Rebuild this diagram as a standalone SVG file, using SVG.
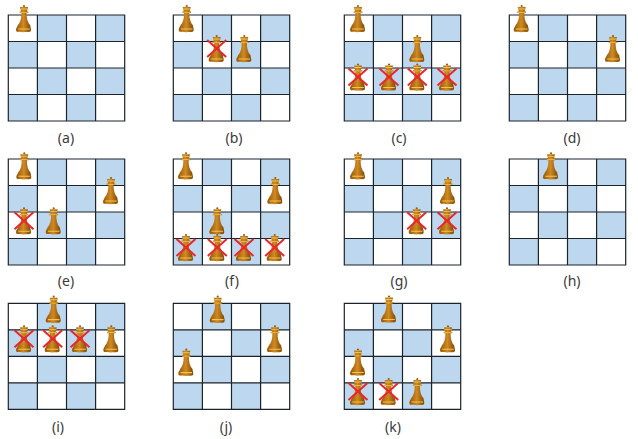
<svg xmlns="http://www.w3.org/2000/svg" width="638" height="439" viewBox="0 0 638 439">
<style>
.lbl{font-family:"Noto Sans","Open Sans",sans-serif;font-size:14px;fill:#3a3a3a;text-anchor:middle}
.b{fill:#bdd7ee}
.g{stroke:#1c232b;stroke-width:1.2;fill:none}
.x{stroke:#e8262c;stroke-width:2;fill:none}
</style>
<defs>
<linearGradient id="q" x1="0" x2="1" y1="0" y2="0"><stop offset="0" stop-color="#93540c"/><stop offset=".5" stop-color="#d08a22"/><stop offset="1" stop-color="#7d4608"/></linearGradient>
<g id="board">
<rect width="116.400" height="106" fill="#fff"/>
<rect class="b" x="29.100" y="0" width="29.100" height="26.500"/><rect class="b" x="87.300" y="0" width="29.100" height="26.500"/>
<rect class="b" x="0" y="26.500" width="29.100" height="26.500"/><rect class="b" x="58.200" y="26.500" width="29.100" height="26.500"/>
<rect class="b" x="29.100" y="53" width="29.100" height="26.500"/><rect class="b" x="87.300" y="53" width="29.100" height="26.500"/>
<rect class="b" x="0" y="79.500" width="29.100" height="26.500"/><rect class="b" x="58.200" y="79.500" width="29.100" height="26.500"/>
<path class="g" d="M0 0H116.400V106H0ZM29.100 0V106M58.200 0V106M87.300 0V106M0 26.500H116.400M0 53H116.400M0 79.500H116.400"/>
</g>
<g id="queen">
<circle cx="0" cy="-26" r="1.100" fill="#9a5a10"/>
<path fill="url(#q)" d="M-4-25h8l-1 4.500h1.300v1.500h-8.600v-1.500h1.300zM-2.600-19h5.200c0 5 .8 9.500 3.800 12.500h-12.800c3-3 3.800-7.500 3.800-12.500zM-6.200-6.500h12.400l.6 3c.5 2.200-.1 3-1 3.300-3.400.5-9.200.5-12.600 0-.9-.3-1.500-1.100-1-3.300z"/>
<path fill="#f4c548" d="M-5.800-3.600h11.600v1.100h-11.600zM-3.600-23.400h7.200v.9h-7.200zM-3.900-20h7.800v.8h-7.800z"/>
</g>
<g id="cross"><path class="x" d="M-9.500-22L9.500-5M9.500-22L-9.500-5"/></g>
</defs>
<g id="board-a"><use href="#board" x="8.300" y="15"/><use href="#queen" x="24" y="32"/><text class="lbl" x="66" y="143">(a)</text></g>
<g id="board-b"><use href="#board" x="173.300" y="15"/><use href="#queen" x="186.700" y="32"/><use href="#queen" x="216.700" y="62"/><use href="#cross" x="216.700" y="62"/><use href="#queen" x="244.300" y="62"/><text class="lbl" x="234" y="143">(b)</text></g>
<g id="board-c"><use href="#board" x="344.300" y="15"/><use href="#queen" x="358" y="32"/><use href="#queen" x="417.300" y="62"/><use href="#queen" x="358" y="90.500"/><use href="#cross" x="358" y="90.500"/><use href="#queen" x="389" y="90.500"/><use href="#cross" x="389" y="90.500"/><use href="#queen" x="417.300" y="90.500"/><use href="#cross" x="417.300" y="90.500"/><use href="#queen" x="447" y="90.500"/><use href="#cross" x="447" y="90.500"/><text class="lbl" x="399" y="143">(c)</text></g>
<g id="board-d"><use href="#board" x="509.300" y="15"/><use href="#queen" x="521.700" y="32"/><use href="#queen" x="613" y="62"/><text class="lbl" x="572" y="143">(d)</text></g>
<g id="board-e"><use href="#board" x="8.300" y="159"/><use href="#queen" x="24.300" y="179.300"/><use href="#queen" x="111" y="204"/><use href="#queen" x="24" y="234.300"/><use href="#cross" x="24" y="234.300"/><use href="#queen" x="53.700" y="234.300"/><text class="lbl" x="66" y="286">(e)</text></g>
<g id="board-f"><use href="#board" x="173.300" y="159"/><use href="#queen" x="186" y="179.300"/><use href="#queen" x="275.300" y="204"/><use href="#queen" x="217.300" y="234.300"/><use href="#queen" x="186" y="261"/><use href="#cross" x="186" y="261"/><use href="#queen" x="217.300" y="261"/><use href="#cross" x="217.300" y="261"/><use href="#queen" x="244" y="261"/><use href="#cross" x="244" y="261"/><use href="#queen" x="274.700" y="261"/><use href="#cross" x="274.700" y="261"/><text class="lbl" x="232" y="286">(f)</text></g>
<g id="board-g"><use href="#board" x="344.300" y="159"/><use href="#queen" x="358" y="179.300"/><use href="#queen" x="448" y="204"/><use href="#queen" x="416.700" y="234.300"/><use href="#cross" x="416.700" y="234.300"/><use href="#queen" x="447" y="234.300"/><use href="#cross" x="447" y="234.300"/><text class="lbl" x="399" y="286">(g)</text></g>
<g id="board-h"><use href="#board" x="509.300" y="159"/><use href="#queen" x="551" y="179.300"/><text class="lbl" x="572" y="286">(h)</text></g>
<g id="board-i"><use href="#board" x="8.300" y="303.300"/><use href="#queen" x="53.700" y="322.700"/><use href="#queen" x="24" y="352.300"/><use href="#cross" x="24" y="352.300"/><use href="#queen" x="52.700" y="352.300"/><use href="#cross" x="52.700" y="352.300"/><use href="#queen" x="80" y="352.300"/><use href="#cross" x="80" y="352.300"/><use href="#queen" x="111.300" y="352.300"/><text class="lbl" x="58" y="432">(i)</text></g>
<g id="board-j"><use href="#board" x="173.300" y="303.300"/><use href="#queen" x="217.700" y="322.700"/><use href="#queen" x="275" y="352.300"/><use href="#queen" x="186.300" y="375.700"/><text class="lbl" x="226" y="432">(j)</text></g>
<g id="board-k"><use href="#board" x="344.300" y="303.300"/><use href="#queen" x="389" y="322.500"/><use href="#queen" x="448" y="352.300"/><use href="#queen" x="358" y="375.500"/><use href="#queen" x="358" y="405"/><use href="#cross" x="358" y="405"/><use href="#queen" x="388.700" y="405"/><use href="#cross" x="388.700" y="405"/><use href="#queen" x="417.300" y="405"/><text class="lbl" x="393" y="432">(k)</text></g>
</svg>
